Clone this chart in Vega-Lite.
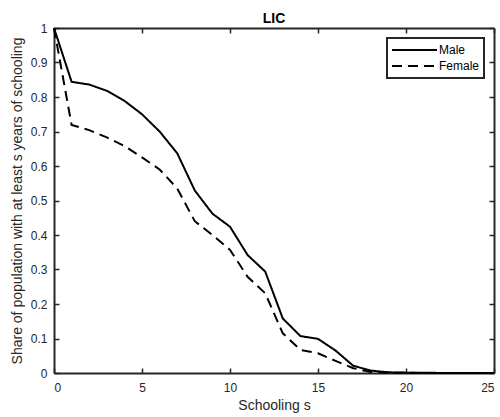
{
  "$schema": "https://vega.github.io/schema/vega-lite/v6.json",
  "width": 440,
  "height": 345,
  "autosize": {"type": "none"},
  "padding": {"left": 54, "top": 28, "right": 6, "bottom": 44},
  "background": "white",
  "config": {
    "font": "Liberation Sans",
    "view": {"stroke": null},
    "axis": {
      "domainColor": "#262626",
      "domainWidth": 2,
      "tickColor": "#262626",
      "tickWidth": 1.5,
      "labelColor": "#262626",
      "titleColor": "#262626",
      "labelFontSize": 12,
      "titleFontSize": 14,
      "titleFontWeight": "normal",
      "grid": false
    }
  },
  "title": {"text": "LIC", "fontSize": 14, "fontWeight": "bold", "color": "#000000", "offset": -4},
  "data": {
    "values": [
      {"s": 0, "share": 1.0, "sex": "Male"},
      {"s": 1, "share": 0.844, "sex": "Male"},
      {"s": 2, "share": 0.836, "sex": "Male"},
      {"s": 3, "share": 0.818, "sex": "Male"},
      {"s": 4, "share": 0.789, "sex": "Male"},
      {"s": 5, "share": 0.75, "sex": "Male"},
      {"s": 6, "share": 0.70, "sex": "Male"},
      {"s": 7, "share": 0.637, "sex": "Male"},
      {"s": 8, "share": 0.529, "sex": "Male"},
      {"s": 9, "share": 0.462, "sex": "Male"},
      {"s": 10, "share": 0.424, "sex": "Male"},
      {"s": 11, "share": 0.342, "sex": "Male"},
      {"s": 12, "share": 0.294, "sex": "Male"},
      {"s": 13, "share": 0.158, "sex": "Male"},
      {"s": 14, "share": 0.107, "sex": "Male"},
      {"s": 15, "share": 0.099, "sex": "Male"},
      {"s": 16, "share": 0.065, "sex": "Male"},
      {"s": 17, "share": 0.021, "sex": "Male"},
      {"s": 18, "share": 0.007, "sex": "Male"},
      {"s": 19, "share": 0.002, "sex": "Male"},
      {"s": 20, "share": 0.001, "sex": "Male"},
      {"s": 21, "share": 0.0005, "sex": "Male"},
      {"s": 22, "share": 0.0003, "sex": "Male"},
      {"s": 23, "share": 0.0002, "sex": "Male"},
      {"s": 24, "share": 0.0001, "sex": "Male"},
      {"s": 25, "share": 0.0, "sex": "Male"},
      {"s": 0, "share": 1.0, "sex": "Female"},
      {"s": 1, "share": 0.719, "sex": "Female"},
      {"s": 2, "share": 0.704, "sex": "Female"},
      {"s": 3, "share": 0.683, "sex": "Female"},
      {"s": 4, "share": 0.658, "sex": "Female"},
      {"s": 5, "share": 0.625, "sex": "Female"},
      {"s": 6, "share": 0.59, "sex": "Female"},
      {"s": 7, "share": 0.535, "sex": "Female"},
      {"s": 8, "share": 0.44, "sex": "Female"},
      {"s": 9, "share": 0.40, "sex": "Female"},
      {"s": 10, "share": 0.357, "sex": "Female"},
      {"s": 11, "share": 0.279, "sex": "Female"},
      {"s": 12, "share": 0.231, "sex": "Female"},
      {"s": 13, "share": 0.115, "sex": "Female"},
      {"s": 14, "share": 0.067, "sex": "Female"},
      {"s": 15, "share": 0.057, "sex": "Female"},
      {"s": 16, "share": 0.035, "sex": "Female"},
      {"s": 17, "share": 0.014, "sex": "Female"},
      {"s": 18, "share": 0.003, "sex": "Female"},
      {"s": 19, "share": 0.001, "sex": "Female"},
      {"s": 20, "share": 0.0005, "sex": "Female"},
      {"s": 21, "share": 0.0002, "sex": "Female"},
      {"s": 22, "share": 0.0001, "sex": "Female"},
      {"s": 23, "share": 0.0, "sex": "Female"},
      {"s": 24, "share": 0.0, "sex": "Female"},
      {"s": 25, "share": 0.0, "sex": "Female"}
    ]
  },
  "layer": [
    {
      "mark": {"type": "line", "color": "#000000", "strokeWidth": 2},
      "encoding": {
        "x": {
          "field": "s", "type": "quantitative",
          "scale": {"domain": [0, 25], "nice": false, "zero": false},
          "axis": {"title": "Schooling s", "values": [0, 5, 10, 15, 20, 25], "tickSize": -5, "labelPadding": 14, "titlePadding": 5}
        },
        "y": {
          "field": "share", "type": "quantitative",
          "scale": {"domain": [0, 1], "nice": false},
          "axis": {"title": "Share of population with at least  s years of schooling", "values": [0, 0.1, 0.2, 0.3, 0.4, 0.5, 0.6, 0.7, 0.8, 0.9, 1], "format": "~g", "tickSize": -5, "labelPadding": 12, "titlePadding": 6}
        },
        "strokeDash": {
          "field": "sex", "type": "nominal",
          "scale": {"domain": ["Male", "Female"], "range": [[1, 0], [10, 6]]},
          "legend": {
            "title": null,
            "orient": "top-right",
            "offset": 10,
            "fillColor": "white",
            "strokeColor": "#262626",
            "padding": 4,
            "symbolType": "stroke",
            "symbolSize": 2025,
            "symbolStrokeWidth": 2,
            "symbolStrokeColor": "#000000",
            "labelFontSize": 12,
            "labelColor": "#000000",
            "labelOffset": 1,
            "clipHeight": 16,
            "rowPadding": 0,
            "encode": {"legend": {"update": {"strokeWidth": {"value": 2}}}}
          }
        }
      }
    },
    {
      "mark": {"type": "point", "opacity": 0},
      "encoding": {
        "x": {
          "field": "s", "type": "quantitative",
          "axis": {"orient": "top", "title": null, "labels": false, "values": [0, 5, 10, 15, 20, 25], "tickSize": -5}
        },
        "y": {
          "field": "share", "type": "quantitative",
          "axis": {"orient": "right", "title": null, "labels": false, "values": [0, 0.1, 0.2, 0.3, 0.4, 0.5, 0.6, 0.7, 0.8, 0.9, 1], "tickSize": -5}
        }
      }
    }
  ],
  "resolve": {"axis": {"x": "independent", "y": "independent"}}
}
